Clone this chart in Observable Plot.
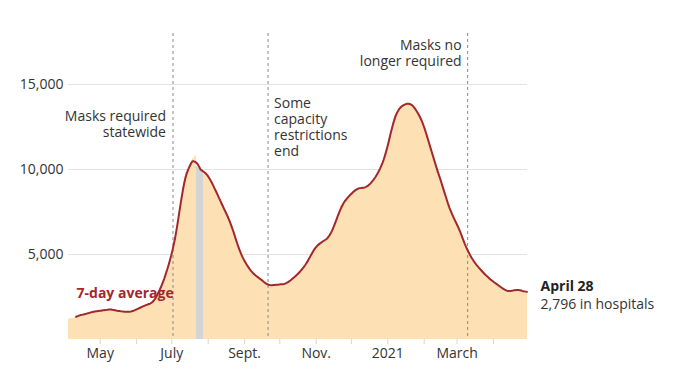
<!DOCTYPE html>
<html>
<head>
<meta charset="utf-8">
<script src="https://cdn.jsdelivr.net/npm/d3@7"></script>
<script src="https://cdn.jsdelivr.net/npm/@observablehq/plot@0.6"></script>
<style>
  html, body { margin: 0; padding: 0; background: #fff; }
  #chart { width: 680px; height: 386px; }
</style>
</head>
<body>
<div id="chart"></div>
<script>
// ---- Data ----
const startDate = "2020-04-04";            // first daily bar
// Daily COVID-19 hospitalizations, one value per day from startDate to 2021-04-28
const hospitalized = [
  1200,1220,1230,
  1230,1250,1300,1350,1400,1420,1400,
  1420,1450,1480,1500,1480,1520,1540,
  1560,1580,1600,1620,1650,1630,1660,
  1650,1680,1700,1690,1720,1700,1710,
  1730,1760,1780,1750,1770,1790,1760,
  1740,1720,1700,1690,1680,1670,1650,
  1660,1640,1630,1650,1620,1610,1640,
  1630,1620,1650,1700,1720,1760,1790,
  1820,1850,1880,1920,1950,1980,2010,
  2040,2060,2090,2110,2130,2160,2190,
  2300,2450,2600,2750,2900,3050,3200,
  3300,3500,3750,4000,4200,4450,4700,
  4850,5150,5450,5800,6200,6600,7000,
  7500,8000,8500,8960,9300,9600,9800,
  10000,10140,10250,10350,10450,10650,10750,
  10800,10150,10100,10050,10000,9950,9900,
  9850,9800,9750,9700,9600,9450,9300,
  9150,9000,8900,8750,8600,8450,8300,
  8100,7950,7850,7700,7550,7400,7250,
  7100,6950,6800,6550,6350,6100,5900,
  5700,5480,5260,5060,4930,4800,4680,
  4550,4430,4320,4200,4100,4020,3950,
  3880,3820,3750,3700,3650,3600,3560,
  3500,3450,3400,3330,3260,3200,3180,
  3170,3190,3200,3220,3190,3210,3230,
  3220,3240,3260,3230,3250,3270,3260,
  3280,3330,3390,3450,3500,3560,3610,
  3660,3730,3800,3870,3940,4010,4090,
  4160,4250,4350,4460,4570,4680,4800,
  4950,5100,5250,5350,5430,5500,5560,
  5620,5680,5720,5760,5800,5850,5900,
  5950,5980,6050,6200,6380,6560,6750,
  6900,7080,7270,7460,7650,7880,7970,
  8050,8150,8250,8330,8400,8470,8550,
  8600,8680,8750,8800,8850,8900,8920,
  8930,8900,8920,8910,8930,8950,8970,
  9050,9120,9200,9250,9350,9450,9550,
  9650,9750,9900,10050,10200,10380,10550,
  10720,10950,11250,11550,11850,12150,12450,
  12750,13000,13180,13330,13470,13580,13670,
  13720,13760,13800,13830,13860,13880,13900,
  13900,13880,13830,13760,13670,13580,13460,
  13330,13200,13080,12980,12830,12650,12400,
  12150,11920,11700,11470,11250,11020,10800,
  10550,10330,10100,9880,9650,9450,9250,
  9100,8900,8620,8300,8100,7900,7750,
  7550,7390,7250,7100,6950,6820,6700,
  6550,6410,6200,6000,5800,5600,5430,
  5300,5170,5040,4910,4790,4650,4560,
  4470,4390,4310,4230,4150,4060,3990,
  3920,3860,3790,3720,3650,3590,3520,
  3470,3420,3370,3320,3270,3220,3170,
  3120,3070,3020,2970,2920,2880,2850,
  2830,2820,2840,2860,2880,2900,2910,
  2920,2930,2920,2910,2900,2880,2850,
  2800,2760,2796
];
// Days drawn in gray in the reference
const grayDays = ["2020-07-22","2020-07-23","2020-07-24","2020-07-25","2020-07-26","2020-07-27"];

// Policy events (dashed rules)
const eventDates  = ["2020-07-02", "2020-09-21", "2021-03-10"];
const eventLabels = ["Masks required\nstatewide", "Some\ncapacity\nrestrictions\nend", "Masks no\nlonger required"];

// Axis ticks
const yTicks = [5000, 10000, 15000];
const xLabelDates = ["2020-05-01","2020-07-01","2020-09-01","2020-11-01","2021-01-01","2021-03-01"];
const xLabels     = ["May","July","Sept.","Nov.","2021","March"];

const lastLabel = "April 28";
const lastValueLabel = "2,796 in hospitals";
const seriesLabel = "7-day average";

// ---- Build table ----
const start = new Date(startDate + "T00:00:00Z");
const data = hospitalized.map((v, i) => {
  const date = d3.utcDay.offset(start, i);
  return {date, value: v, gray: grayDays.includes(d3.utcFormat("%Y-%m-%d")(date))};
});
const endDate = d3.utcDay.offset(data[data.length - 1].date, 1);
const monthTicks = d3.utcMonth.range(d3.utcMonth.ceil(start), endDate);
const labelMap = new Map(xLabelDates.map((d, i) => [+new Date(d + "T00:00:00Z"), xLabels[i]]));
const events = eventDates.map((d, i) => ({date: new Date(d + "T00:00:00Z"), label: eventLabels[i]}));
const last = data[data.length - 1];
const lineStart = data[6].date;

const RED = "#a3272c";
const PEACH = "#fde0b4";
const TEXT = "#333";
const FS = 14;

const chart = Plot.plot({
  width: 680,
  height: 386,
  marginLeft: 68,
  marginRight: 153,
  marginTop: 33,
  marginBottom: 47,
  style: {fontFamily: "'Open Sans', sans-serif", fontSize: FS + "px", color: TEXT, background: "#fff"},
  x: {type: "utc", domain: [start, endDate], axis: null},
  y: {domain: [0, 18000], axis: null},
  marks: [
    Plot.gridY(yTicks, {stroke: "#e3e3e3", strokeOpacity: 1}),
    Plot.rectY(data.filter(d => !d.gray), {
      x1: "date", x2: d => d3.utcDay.offset(d.date, 1), y: "value",
      fill: PEACH, shapeRendering: "crispEdges"
    }),
    Plot.rectY(data.filter(d => d.gray), {
      x1: "date", x2: d => d3.utcDay.offset(d.date, 1), y: "value",
      fill: "#d4d4d4", shapeRendering: "crispEdges"
    }),
    Plot.ruleX(events, {x: "date", stroke: "#8a8a8a", strokeWidth: 1, strokeDasharray: "3,3"}),
    Plot.lineY(data, Plot.filter(d => d.date >= lineStart, Plot.windowY({k: 7, anchor: "middle", strict: false}, {
      x: d => d3.utcHour.offset(d.date, 12), y: "value",
      stroke: RED, strokeWidth: 2, curve: "linear"
    }))),
    Plot.axisY(yTicks, {tickSize: 0, tickPadding: 5, tickFormat: d3.format(","), fill: TEXT, fontSize: FS, label: null}),
    Plot.axisX(monthTicks, {
      tickSize: 5, tickPadding: 4, stroke: "#d6d6d6", fill: TEXT, fontSize: FS, label: null,
      tickFormat: d => labelMap.get(+d) || ""
    }),
    // event annotations
    Plot.text([events[0]], {x: "date", text: "label", frameAnchor: "top", dy: 90, dx: -7,
      textAnchor: "end", lineAnchor: "middle", lineHeight: 1.143, fill: TEXT, fontSize: FS}),
    Plot.text([events[1]], {x: "date", text: "label", frameAnchor: "top", dy: 93, dx: 6,
      textAnchor: "start", lineAnchor: "middle", lineHeight: 1.143, fill: TEXT, fontSize: FS}),
    Plot.text([events[2]], {x: "date", text: "label", frameAnchor: "top", dy: 19, dx: -6,
      textAnchor: "end", lineAnchor: "middle", lineHeight: 1.143, fill: TEXT, fontSize: FS}),
    // series label
    Plot.text([data[6]], {x: "date", text: () => seriesLabel, frameAnchor: "bottom", dy: -42, dx: 1,
      textAnchor: "start", fill: RED, fontWeight: "bold", fontSize: FS}),
    // end labels
    Plot.text([last], {x: d => d3.utcDay.offset(d.date, 1), y: "value", text: () => lastLabel,
      dx: 13, dy: -5, textAnchor: "start", fill: "#222", fontWeight: "bold", fontSize: FS}),
    Plot.text([last], {x: d => d3.utcDay.offset(d.date, 1), y: "value", text: () => lastValueLabel,
      dx: 13, dy: 13, textAnchor: "start", fill: TEXT, fontSize: FS})
  ]
});
document.getElementById("chart").appendChild(chart);
</script>
</body>
</html>
